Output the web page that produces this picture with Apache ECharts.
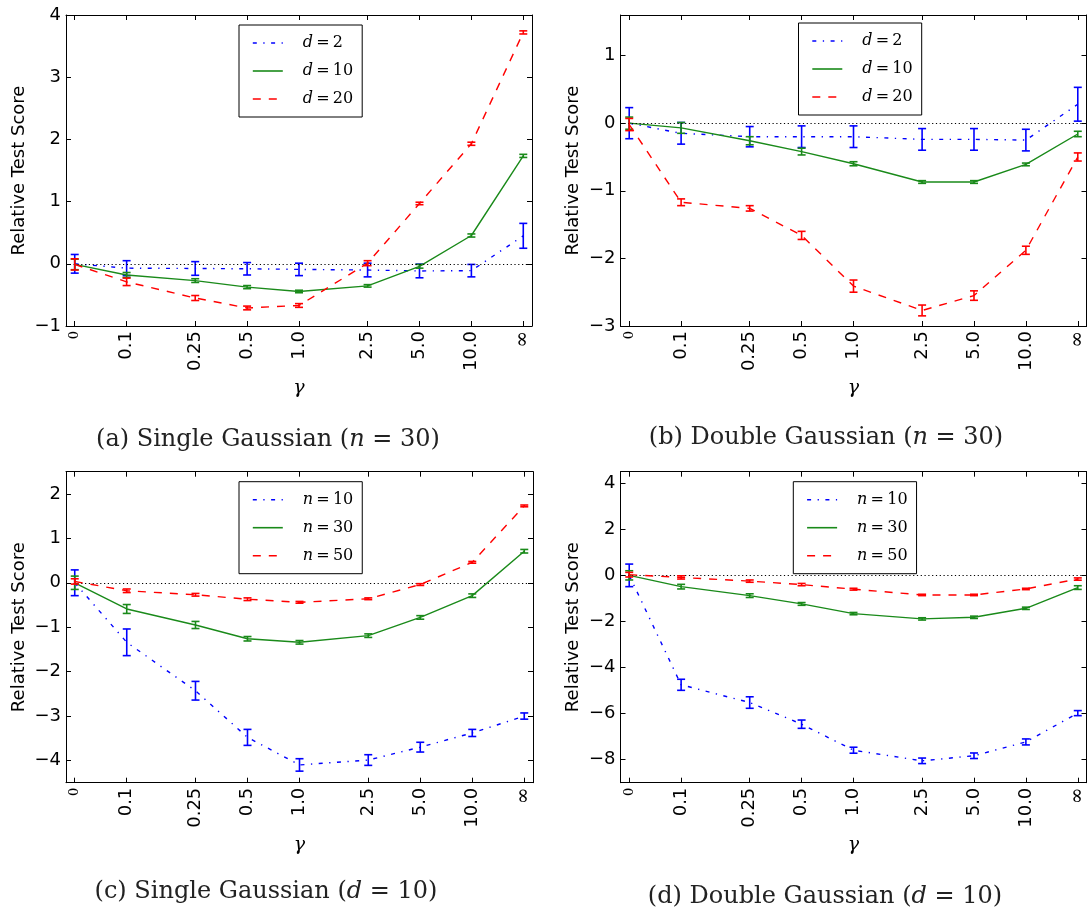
<!DOCTYPE html>
<html>
<head>
<meta charset="utf-8">
<script src="https://cdn.jsdelivr.net/npm/echarts@6/dist/echarts.min.js"></script>
<style>
  html, body { margin: 0; padding: 0; background: #ffffff; }
  #chart { width: 1088px; height: 916px; }
</style>
</head>
<body>
<div id="chart"></div>
<script>
// γ values shared by every panel (0 and ∞ sit one octave beyond the ends)
const gammaLabels = ['0', '0.1', '0.25', '0.5', '1.0', '2.5', '5.0', '10.0', '∞'];
const gammaValues = [0, 0.1, 0.25, 0.5, 1, 2.5, 5, 10, Infinity];

// (a) Single Gaussian, n = 30
const singleN30_d2 = [0.0, -0.07, -0.075, -0.08, -0.09, -0.10, -0.115, -0.11, 0.45];
const singleN30_d2Err = [0.15, 0.12, 0.11, 0.10, 0.10, 0.11, 0.11, 0.10, 0.20];
const singleN30_d10 = [-0.01, -0.18, -0.27, -0.375, -0.445, -0.355, -0.04, 0.455, 1.735];
const singleN30_d10Err = [0.085, 0.04, 0.03, 0.025, 0.02, 0.02, 0.03, 0.025, 0.025];
const singleN30_d20 = [-0.01, -0.29, -0.55, -0.71, -0.67, 0.01, 0.97, 1.93, 3.72];
const singleN30_d20Err = [0.09, 0.06, 0.04, 0.03, 0.03, 0.04, 0.02, 0.025, 0.025];

// (b) Double Gaussian, n = 30
const doubleN30_d2 = [0.0, -0.15, -0.2, -0.2, -0.2, -0.24, -0.24, -0.25, 0.28];
const doubleN30_d2Err = [0.23, 0.16, 0.15, 0.16, 0.16, 0.16, 0.16, 0.16, 0.25];
const doubleN30_d10 = [0.0, -0.07, -0.26, -0.42, -0.6, -0.87, -0.87, -0.61, -0.16];
const doubleN30_d10Err = [0.09, 0.08, 0.06, 0.05, 0.03, 0.02, 0.02, 0.02, 0.04];
const doubleN30_d20 = [-0.02, -1.17, -1.26, -1.66, -2.41, -2.77, -2.55, -1.88, -0.5];
const doubleN30_d20Err = [0.09, 0.05, 0.04, 0.06, 0.09, 0.08, 0.07, 0.06, 0.06];

// (c) Single Gaussian, d = 10
const singleD10_n10 = [0.0, -1.34, -2.43, -3.48, -4.1, -3.99, -3.7, -3.38, -3.0];
const singleD10_n10Err = [0.29, 0.3, 0.21, 0.18, 0.14, 0.12, 0.11, 0.08, 0.07];
const singleD10_n30 = [0.0, -0.59, -0.95, -1.26, -1.34, -1.19, -0.78, -0.29, 0.71];
const singleD10_n30Err = [0.15, 0.1, 0.08, 0.05, 0.04, 0.04, 0.04, 0.04, 0.04];
const singleD10_n50 = [0.03, -0.18, -0.27, -0.37, -0.44, -0.36, -0.04, 0.46, 1.73];
const singleD10_n50Err = [0.06, 0.04, 0.03, 0.03, 0.02, 0.02, 0.02, 0.02, 0.02];

// (d) Double Gaussian, d = 10
const doubleD10_n10 = [0.0, -4.75, -5.52, -6.46, -7.59, -8.05, -7.83, -7.23, -5.98];
const doubleD10_n10Err = [0.49, 0.24, 0.25, 0.18, 0.13, 0.12, 0.12, 0.13, 0.11];
const doubleD10_n30 = [0.0, -0.49, -0.88, -1.24, -1.66, -1.89, -1.82, -1.43, -0.53];
const doubleD10_n30Err = [0.2, 0.1, 0.08, 0.06, 0.05, 0.05, 0.05, 0.05, 0.08];
const doubleD10_n50 = [0.03, -0.09, -0.25, -0.4, -0.6, -0.85, -0.85, -0.59, -0.16];
const doubleD10_n50Err = [0.1, 0.07, 0.05, 0.05, 0.04, 0.03, 0.03, 0.03, 0.05];

// y-axis ticks per panel
const yTicksA = [-1, 0, 1, 2, 3, 4];
const yTicksB = [-3, -2, -1, 0, 1];
const yTicksC = [-4, -3, -2, -1, 0, 1, 2];
const yTicksD = [-8, -6, -4, -2, 0, 2, 4];

// Legend labels
const dLabels = ['d=2', 'd=10', 'd=20'];
const nLabels = ['n=10', 'n=30', 'n=50'];

// γ on a log2 scale; 0 and ∞ are placed one octave outside 0.1 and 10
function gammaPosition(g) {
  if (g === 0) return Math.log2(gammaValues[1]) - 1;
  if (!isFinite(g)) return Math.log2(gammaValues[gammaValues.length - 2]) + 1;
  return Math.log2(g);
}
const xPos = gammaValues.map(gammaPosition);

const BLUE = '#0000ff', GREEN = '#1a8a1a', RED = '#ff0000';
const styles = [
  { color: BLUE, type: [4, 6.5, 1.3, 6.5] },
  { color: GREEN, type: 'solid' },
  { color: RED, type: [8, 8] }
];

const SANS = 'DejaVu Sans';
const SERIF = 'DejaVu Serif';
const THIN = '\u2009';

const panels = [
  { grid: { left: 66, top: 15, width: 466, height: 311 }, yMin: -1, yMax: 4, yTicks: yTicksA,
    names: dLabels,
    values: [singleN30_d2, singleN30_d10, singleN30_d20],
    errs: [singleN30_d2Err, singleN30_d10Err, singleN30_d20Err],
    legend: { left: 239, top: 25 },
    caption: { x: 268, y: 440, tag: '(a) Single Gaussian (', v: 'n', rest: ' = 30)' } },
  { grid: { left: 620.5, top: 15, width: 466, height: 311 }, yMin: -3, yMax: 1.6, yTicks: yTicksB,
    names: dLabels,
    values: [doubleN30_d2, doubleN30_d10, doubleN30_d20],
    errs: [doubleN30_d2Err, doubleN30_d10Err, doubleN30_d20Err],
    legend: { left: 798.5, top: 23 },
    caption: { x: 826, y: 438, tag: '(b) Double Gaussian (', v: 'n', rest: ' = 30)' } },
  { grid: { left: 66, top: 471.7, width: 467, height: 311 }, yMin: -4.5, yMax: 2.5, yTicks: yTicksC,
    names: nLabels,
    values: [singleD10_n10, singleD10_n30, singleD10_n50],
    errs: [singleD10_n10Err, singleD10_n30Err, singleD10_n50Err],
    legend: { left: 239, top: 481.7 },
    caption: { x: 266, y: 892, tag: '(c) Single Gaussian (', v: 'd', rest: ' = 10)' } },
  { grid: { left: 620.5, top: 471.7, width: 466, height: 311 }, yMin: -9, yMax: 4.5, yTicks: yTicksD,
    names: nLabels,
    values: [doubleD10_n10, doubleD10_n30, doubleD10_n50],
    errs: [doubleD10_n10Err, doubleD10_n30Err, doubleD10_n50Err],
    legend: { left: 793.3, top: 481.7 },
    caption: { x: 825, y: 897, tag: '(d) Double Gaussian (', v: 'd', rest: ' = 10)' } }
];

function gammaLabelFor(v) {
  for (let i = 0; i < xPos.length; i++) {
    if (Math.abs(xPos[i] - v) < 1e-6) {
      const t = gammaLabels[i];
      if (t === '0') return '{z|0}';
      if (t === '∞') return '{inf|∞}';
      return t;
    }
  }
  return '';
}

const axisLineStyle = { color: '#000000', width: 1 };

const grids = [], xAxes = [], yAxes = [], series = [], legends = [], graphics = [];

panels.forEach((p, k) => {
  grids.push(Object.assign({ outerBoundsMode: 'none', containLabel: false }, p.grid));

  // bottom γ axis
  xAxes.push({
    gridIndex: k, type: 'value', position: 'bottom', min: -4.49, max: 4.49,
    axisLine: { show: true, onZero: false, lineStyle: axisLineStyle },
    axisTick: { show: true, inside: true, length: 5, customValues: xPos, lineStyle: axisLineStyle },
    axisLabel: {
      show: true, rotate: 90, margin: 5, customValues: xPos, formatter: gammaLabelFor,
      color: '#000', fontFamily: SANS, fontSize: 18,
      rich: {
        z: { fontFamily: SERIF, fontSize: 13, color: '#000' },
        inf: { fontFamily: SERIF, fontSize: 20, color: '#000' }
      }
    },
    splitLine: { show: false },
    name: 'γ', nameLocation: 'middle', nameGap: 53,
    nameTextStyle: { fontFamily: SERIF, fontStyle: 'italic', fontSize: 19, color: '#000' }
  });
  // top frame
  xAxes.push({
    gridIndex: k, type: 'value', position: 'top', min: -4.49, max: 4.49,
    axisLine: { show: true, onZero: false, lineStyle: axisLineStyle },
    axisTick: { show: true, inside: true, length: 5, customValues: xPos, lineStyle: axisLineStyle },
    axisLabel: { show: false }, splitLine: { show: false }
  });
  // left score axis
  yAxes.push({
    gridIndex: k, type: 'value', position: 'left', min: p.yMin, max: p.yMax,
    axisLine: { show: true, onZero: false, lineStyle: axisLineStyle },
    axisTick: { show: true, inside: true, length: 5, customValues: p.yTicks, lineStyle: axisLineStyle },
    axisLabel: {
      show: true, margin: 5, customValues: p.yTicks, color: '#000', fontFamily: SANS, fontSize: 18,
      formatter: v => String(v).replace('-', '\u2212')
    },
    splitLine: { show: false },
    name: 'Relative Test Score', nameLocation: 'middle', nameGap: 38,
    nameTextStyle: { fontFamily: SANS, fontSize: 18, color: '#000' }
  });
  // right frame
  yAxes.push({
    gridIndex: k, type: 'value', position: 'right', min: p.yMin, max: p.yMax,
    axisLine: { show: true, onZero: false, lineStyle: axisLineStyle },
    axisTick: { show: true, inside: true, length: 5, customValues: p.yTicks, lineStyle: axisLineStyle },
    axisLabel: { show: false }, splitLine: { show: false }
  });

  const xi = 2 * k, yi = 2 * k;
  p.values.forEach((vals, s) => {
    const st = styles[s];
    const line = {
      type: 'line', name: p.names[s], xAxisIndex: xi, yAxisIndex: yi,
      symbol: 'none', showSymbol: false, smooth: false, animation: false, z: 3 + s,
      lineStyle: { color: st.color, width: 1.4, type: st.type },
      itemStyle: { color: st.color },
      data: xPos.map((x, i) => [x, vals[i]])
    };
    if (s === 0) {
      line.markLine = {
        silent: true, symbol: ['none', 'none'], animation: false,
        label: { show: false },
        lineStyle: { color: '#000', width: 1.2, type: [1.2, 2.6] },
        emphasis: { disabled: true },
        data: [{ yAxis: 0 }]
      };
    }
    series.push(line);

    const errs = p.errs[s];
    series.push({
      type: 'custom', name: p.names[s] + ' bars', xAxisIndex: xi, yAxisIndex: yi,
      silent: true, animation: false, z: 3 + s,
      encode: { x: 0, y: [1, 2] },
      data: xPos.map((x, i) => [x, vals[i] - errs[i], vals[i] + errs[i]]),
      renderItem: (params, api) => {
        const x = api.value(0);
        const lo = api.coord([x, api.value(1)]);
        const hi = api.coord([x, api.value(2)]);
        const style = { stroke: st.color, lineWidth: 1.6, fill: null };
        const cap = 4;
        return {
          type: 'group', children: [
            { type: 'line', shape: { x1: lo[0], y1: lo[1], x2: hi[0], y2: hi[1] }, style },
            { type: 'line', shape: { x1: lo[0] - cap, y1: lo[1], x2: lo[0] + cap, y2: lo[1] }, style },
            { type: 'line', shape: { x1: hi[0] - cap, y1: hi[1], x2: hi[0] + cap, y2: hi[1] }, style }
          ]
        };
      }
    });
  });

  legends.push({
    left: p.legend.left, top: p.legend.top, orient: 'vertical',
    data: p.names, selectedMode: false,
    backgroundColor: '#ffffff', borderColor: '#000000', borderWidth: 1, borderRadius: 0,
    padding: [8, 9, 8, 13], itemGap: 8, itemWidth: 30, itemHeight: 14,
    // only the line sample is shown, no marker in the middle
    itemStyle: { opacity: 0 },
    lineStyle: { width: 1.6 },
    formatter: name => {
      const parts = name.split('=');
      return '{v|' + parts[0] + '}{t|' + THIN + '=' + THIN + parts[1] + '}';
    },
    textStyle: {
      fontFamily: SERIF, fontSize: 16, color: '#000', lineHeight: 20,
      rich: {
        v: { fontFamily: SERIF, fontStyle: 'italic', fontSize: 16, color: '#000', padding: [0, 0, 0, 15], lineHeight: 20 },
        t: { fontFamily: SERIF, fontSize: 16, color: '#000', lineHeight: 20 }
      }
    }
  });

  const c = p.caption;
  graphics.push({
    type: 'text', x: c.x, y: c.y, silent: true,
    style: {
      text: '{r|' + c.tag + '}{i|' + c.v + '}{r|' + c.rest + '}',
      align: 'center', verticalAlign: 'middle',
      rich: {
        r: { fontFamily: SERIF, fontSize: 24, fill: '#222' },
        i: { fontFamily: SERIF, fontStyle: 'italic', fontSize: 24, fill: '#222' }
      }
    }
  });
});

const chart = echarts.init(document.getElementById('chart'), null, { renderer: 'canvas' });
chart.setOption({
  backgroundColor: '#ffffff',
  animation: false,
  grid: grids,
  xAxis: xAxes,
  yAxis: yAxes,
  legend: legends,
  series: series,
  graphic: graphics
});
</script>
</body>
</html>
